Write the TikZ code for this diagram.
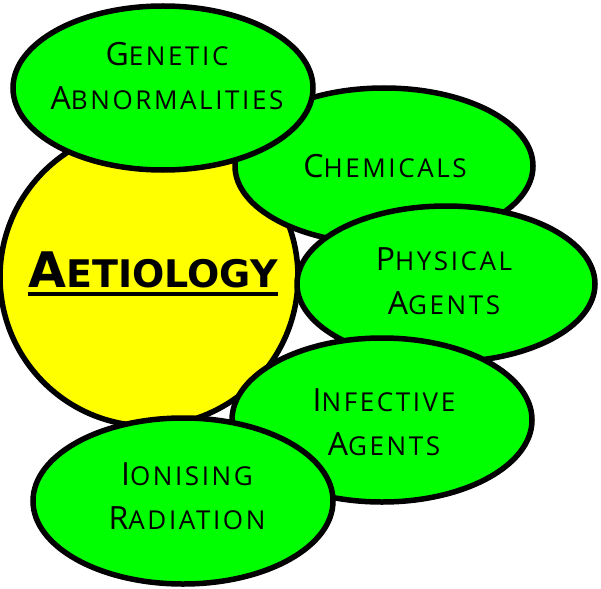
\documentclass[tikz,border=0pt]{standalone}
\usepackage{fontspec}
\usepackage{tikz}
\usetikzlibrary{shapes.geometric}
\newfontfamily\blobfont{Open Sans}[LetterSpace=10]
\newfontfamily\aetfont{DejaVu Sans}
\definecolor{blobgreen}{RGB}{0,255,0}
\definecolor{coreyellow}{RGB}{255,255,0}
% fake small capitals: big first letter, smaller rest
\newcommand\smcap[2]{#1{\fontsize{26}{44}\selectfont #2}}
\newcommand\aetline[1]{\setbox0\hbox{#1}\vtop{\copy0\kern4pt\hrule height 4pt}}

\begin{document}
\begin{tikzpicture}[x=1pt, y=-1pt,
  core/.style={circle, draw=black, line width=5.5pt, fill=coreyellow, minimum size=298pt, inner sep=0pt},
  blob/.style={ellipse, draw=black, line width=5.5pt, fill=blobgreen, inner sep=0pt},
  blobtext/.style={font=\blobfont\fontsize{32}{44}\selectfont, align=center, inner sep=0pt}
]
\useasboundingbox (0,0) rectangle (601,588);

\node[core] (aet) at (149,277) {};
\node[blob, minimum width=298pt, minimum height=156pt] (chem) at (384,166) {};
\node[blob, minimum width=300pt, minimum height=164pt] (gen) at (163,88) {};
\node[blob, minimum width=298pt, minimum height=156pt] (phys) at (446,284) {};
\node[blob, minimum width=300pt, minimum height=164pt] (inf) at (382,420) {};
\node[blob, minimum width=300pt, minimum height=166pt] (ion) at (183,501) {};

% labels
\node[blobtext] (gentext) at (167,76.5) {\smcap{G}{ENETIC}\\\smcap{A}{BNORMALITIES}};
\node[blobtext] (chemtext) at (385,166.5) {\smcap{C}{HEMICALS}};
\node[blobtext] (phystext) at (444,281) {\smcap{P}{HYSICAL}\\\smcap{A}{GENTS}};
\node[blobtext] (inftext) at (384,422.5) {\smcap{I}{NFECTIVE}\\\smcap{A}{GENTS}};
\node[blobtext] (iontext) at (187,496) {\smcap{I}{ONISING}\\\smcap{R}{ADIATION}};
\node[font=\aetfont\bfseries\fontsize{49}{49}\selectfont, anchor=base, inner sep=0pt] (aettext) at (153,287)
  {\aetline{A{\fontsize{38}{49}\selectfont ETIOLOGY}}};
\end{tikzpicture}
\end{document}
